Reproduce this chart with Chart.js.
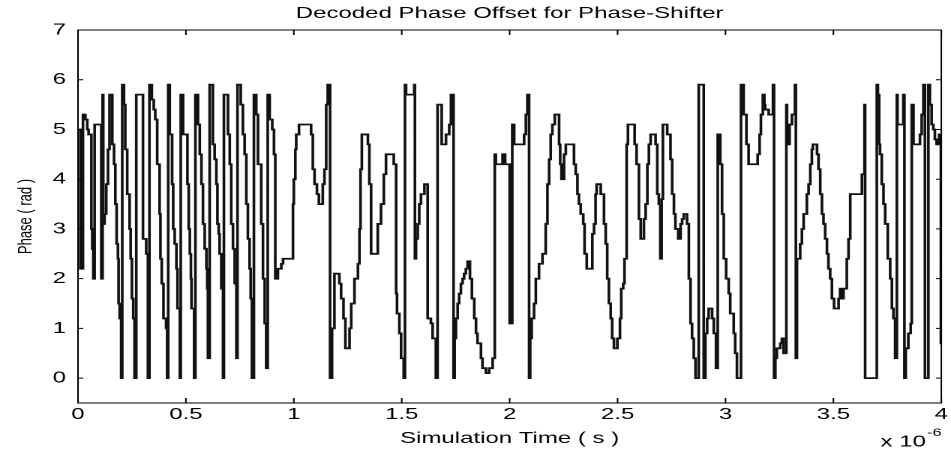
<!DOCTYPE html>
<html>
<head>
<meta charset="utf-8">
<title>Decoded Phase Offset for Phase-Shifter</title>
<script src="https://cdn.jsdelivr.net/npm/chart.js@4.4.1/dist/chart.umd.min.js"></script>
<style>
  html, body { margin: 0; padding: 0; background: #fff; overflow: hidden; }
  /* plot is laid out narrow, then stretched sideways like the printed figure */
  #wrap { width: 634px; height: 455px; transform: scaleX(1.5); transform-origin: 0 0; }
</style>
</head>
<body>
<div id="wrap"><canvas id="phaseChart" width="634" height="455"></canvas></div>
<script>
// Decoded phase (rad) against simulation time (microseconds), held between samples
const timeUs = [
  0.000, 0.011, 0.023, 0.034, 0.043, 0.049, 0.062, 0.066, 0.071, 0.077,
  0.108, 0.114, 0.117, 0.123, 0.131, 0.139, 0.146, 0.159, 0.167, 0.173,
  0.179, 0.185, 0.188, 0.193, 0.200, 0.205, 0.213, 0.219, 0.228, 0.239,
  0.244, 0.250, 0.256, 0.262, 0.270, 0.301, 0.316, 0.324, 0.331, 0.342,
  0.351, 0.358, 0.367, 0.378, 0.382, 0.388, 0.396, 0.408, 0.413, 0.418,
  0.425, 0.436, 0.441, 0.448, 0.456, 0.461, 0.472, 0.476, 0.487, 0.507,
  0.513, 0.518, 0.523, 0.526, 0.538, 0.544, 0.556, 0.564, 0.572, 0.579,
  0.587, 0.595, 0.599, 0.602, 0.610, 0.625, 0.633, 0.641, 0.646, 0.652,
  0.656, 0.664, 0.672, 0.676, 0.695, 0.703, 0.710, 0.718, 0.726, 0.734,
  0.739, 0.754, 0.764, 0.772, 0.780, 0.787, 0.795, 0.800, 0.806, 0.815,
  0.826, 0.834, 0.849, 0.857, 0.865, 0.872, 0.879, 0.888, 0.900, 0.908,
  0.914, 0.926, 0.942, 0.950, 0.996, 1.000, 1.007, 1.011, 1.024, 1.080,
  1.088, 1.096, 1.107, 1.116, 1.134, 1.142, 1.150, 1.157, 1.168, 1.177,
  1.188, 1.211, 1.219, 1.230, 1.239, 1.258, 1.266, 1.281, 1.297, 1.304,
  1.309, 1.315, 1.343, 1.350, 1.358, 1.389, 1.404, 1.417, 1.427, 1.463,
  1.474, 1.478, 1.489, 1.497, 1.509, 1.515, 1.520, 1.558, 1.561, 1.566,
  1.574, 1.581, 1.589, 1.605, 1.620, 1.635, 1.643, 1.658, 1.666, 1.685,
  1.705, 1.720, 1.728, 1.740, 1.745, 1.751, 1.759, 1.766, 1.774, 1.782,
  1.789, 1.797, 1.805, 1.816, 1.825, 1.836, 1.844, 1.851, 1.867, 1.874,
  1.890, 1.905, 1.921, 1.931, 1.936, 1.967, 1.979, 2.000, 2.012, 2.021,
  2.067, 2.075, 2.082, 2.090, 2.095, 2.102, 2.113, 2.121, 2.136, 2.152,
  2.167, 2.175, 2.183, 2.190, 2.198, 2.209, 2.229, 2.234, 2.240, 2.252,
  2.260, 2.298, 2.306, 2.314, 2.321, 2.329, 2.341, 2.347, 2.357, 2.383,
  2.391, 2.398, 2.403, 2.422, 2.437, 2.445, 2.452, 2.460, 2.468, 2.475,
  2.483, 2.499, 2.511, 2.517, 2.526, 2.532, 2.542, 2.548, 2.579, 2.588,
  2.599, 2.607, 2.622, 2.630, 2.638, 2.645, 2.653, 2.676, 2.684, 2.691,
  2.698, 2.704, 2.710, 2.730, 2.745, 2.753, 2.761, 2.768, 2.781, 2.792,
  2.799, 2.807, 2.822, 2.830, 2.838, 2.845, 2.853, 2.861, 2.876, 2.899,
  2.907, 2.915, 2.922, 2.938, 2.946, 2.956, 2.964, 2.976, 2.984, 2.992,
  3.003, 3.015, 3.022, 3.038, 3.045, 3.053, 3.072, 3.084, 3.097, 3.107,
  3.149, 3.158, 3.164, 3.173, 3.180, 3.184, 3.200, 3.220, 3.225, 3.231,
  3.238, 3.254, 3.261, 3.269, 3.282, 3.285, 3.297, 3.308, 3.322, 3.326,
  3.331, 3.346, 3.354, 3.362, 3.377, 3.385, 3.393, 3.400, 3.405, 3.424,
  3.431, 3.439, 3.447, 3.454, 3.462, 3.470, 3.477, 3.485, 3.493, 3.503,
  3.524, 3.531, 3.539, 3.547, 3.562, 3.570, 3.578, 3.632, 3.644, 3.647,
  3.701, 3.706, 3.712, 3.716, 3.724, 3.732, 3.740, 3.752, 3.763, 3.771,
  3.778, 3.786, 3.794, 3.797, 3.824, 3.829, 3.835, 3.847, 3.858, 3.863,
  3.871, 3.901, 3.909, 3.917, 3.924, 3.940, 3.947, 3.955, 3.963, 3.970,
  3.978, 3.990, 3.998, 4.000
];
const phaseRad = [
  5.0, 2.2, 5.3, 5.2, 5.0, 4.9, 3.0, 2.6, 2.0, 5.1,
  2.0, 5.7, 3.1, 3.3, 3.9, 4.6, 5.7, 4.7, 4.3, 3.5,
  2.7, 2.4, 1.5, 1.2, 0.0, 5.9, 5.5, 4.6, 3.7, 3.0,
  2.4, 1.6, 1.2, 0.0, 5.7, 2.8, 2.5, 0.0, 5.9, 5.6,
  5.4, 5.2, 4.3, 3.3, 2.4, 1.9, 1.2, 1.0, 0.0, 5.9,
  4.9, 3.9, 3.0, 2.7, 2.2, 1.4, 0.0, 5.7, 4.9, 3.9,
  3.0, 2.5, 2.0, 1.4, 0.0, 5.7, 5.1, 4.5, 3.9, 3.1,
  2.6, 2.2, 1.8, 0.4, 5.9, 4.7, 4.4, 3.9, 3.1, 2.9,
  2.5, 1.8, 0.0, 5.7, 4.9, 4.3, 3.1, 2.6, 1.9, 0.4,
  5.9, 5.5, 4.9, 4.5, 3.5, 2.8, 2.2, 1.6, 0.0, 5.7,
  5.3, 4.3, 3.1, 2.0, 1.1, 0.2, 5.7, 5.2, 5.0, 4.5,
  2.0, 2.2, 2.3, 2.4, 3.5, 4.0, 4.6, 4.9, 5.1, 4.9,
  4.2, 3.9, 3.7, 3.5, 3.9, 4.2, 5.5, 5.9, 0.0, 1.0,
  2.1, 1.9, 1.6, 1.2, 0.6, 1.0, 1.5, 2.0, 2.3, 3.0,
  4.2, 4.9, 4.7, 3.9, 2.5, 3.1, 3.5, 4.1, 4.5, 4.3,
  1.7, 1.3, 0.9, 0.4, 0.0, 5.9, 5.7, 5.9, 2.4, 2.8,
  3.1, 3.5, 3.7, 3.9, 1.2, 1.1, 0.8, 0.0, 5.5, 4.7,
  4.9, 5.1, 5.7, 0.0, 0.8, 1.2, 1.5, 1.7, 1.9, 2.0,
  2.1, 2.2, 2.35, 2.0, 1.6, 1.2, 0.9, 0.7, 0.4, 0.2,
  0.1, 0.2, 0.4, 4.5, 4.3, 4.5, 4.3, 1.1, 5.1, 4.7,
  4.9, 5.3, 5.7, 0.0, 0.8, 1.2, 1.5, 2.0, 2.3, 2.5,
  3.1, 3.9, 4.4, 4.9, 5.1, 5.3, 4.7, 4.3, 4.0, 4.5,
  4.7, 4.3, 4.1, 3.7, 3.5, 3.3, 3.1, 2.5, 2.2, 2.9,
  3.1, 3.7, 3.9, 3.7, 3.1, 2.7, 2.0, 1.5, 1.2, 0.8,
  0.6, 0.8, 1.2, 1.8, 1.9, 2.4, 4.7, 5.1, 4.7, 4.3,
  3.2, 2.8, 3.2, 3.5, 4.3, 4.7, 4.9, 4.7, 3.7, 3.5,
  2.4, 3.6, 5.1, 4.9, 4.4, 3.7, 3.3, 3.0, 2.8, 3.1,
  3.2, 3.3, 3.1, 2.0, 1.1, 0.8, 0.4, 0.0, 5.9, 0.0,
  0.9, 1.2, 1.4, 1.2, 0.9, 0.2, 4.9, 4.3, 3.3, 2.4,
  2.0, 1.7, 1.3, 0.9, 0.5, 0.0, 5.9, 5.3, 4.7, 4.3,
  4.5, 4.9, 5.3, 5.7, 5.5, 5.4, 5.3, 5.9, 0.0, 0.4,
  0.6, 0.7, 0.8, 0.5, 5.5, 4.7, 5.1, 5.3, 5.9, 0.4,
  2.4, 2.7, 3.0, 3.3, 3.7, 3.9, 4.3, 4.6, 4.7, 4.5,
  4.2, 3.7, 3.3, 3.1, 2.8, 2.5, 2.2, 2.0, 1.6, 1.4,
  1.6, 1.8, 1.6, 1.8, 2.4, 2.8, 3.7, 4.1, 5.5, 0.0,
  5.9, 5.7, 4.7, 4.5, 3.9, 3.5, 3.1, 2.4, 2.0, 1.4,
  1.2, 0.4, 5.7, 5.1, 5.7, 0.0, 0.6, 0.9, 1.1, 5.5,
  4.7, 4.9, 5.3, 5.9, 0.0, 5.9, 5.5, 5.1, 5.0, 4.8,
  4.7, 4.9, 0.7, 0.7
];
const xTicks = [0, 0.5, 1, 1.5, 2, 2.5, 3, 3.5, 4];
const yTicks = [0, 1, 2, 3, 4, 5, 6, 7];

const family = '"Liberation Sans", Arial, Helvetica, sans-serif';

// box round the axes, inward tick marks and the x 10^-6 exponent
const axesBox = {
  id: 'axesBox',
  afterDatasetsDraw(chart) {
    const { ctx, chartArea: a, scales: { x, y } } = chart;
    ctx.save();
    ctx.strokeStyle = '#000';
    ctx.lineWidth = 1;
    ctx.strokeRect(a.left, a.top, a.right - a.left, a.bottom - a.top);
    ctx.beginPath();
    xTicks.forEach(v => {
      const px = x.getPixelForValue(v);
      ctx.moveTo(px, a.bottom); ctx.lineTo(px, a.bottom - 5);
      ctx.moveTo(px, a.top); ctx.lineTo(px, a.top + 5);
    });
    yTicks.forEach(v => {
      const py = y.getPixelForValue(v);
      ctx.moveTo(a.left, py); ctx.lineTo(a.left + 3.5, py);
      ctx.moveTo(a.right, py); ctx.lineTo(a.right - 3.5, py);
    });
    ctx.stroke();
    ctx.fillStyle = '#000';
    ctx.textAlign = 'left';
    ctx.textBaseline = 'middle';
    ctx.font = '16px ' + family;
    ctx.fillText('x 10', 587, 442);
    ctx.font = '11px ' + family;
    ctx.fillText('-6', 618, 433);
    ctx.restore();
  }
};

new Chart(document.getElementById('phaseChart'), {
  type: 'line',
  data: {
    datasets: [{
      data: timeUs.map((t, i) => ({ x: t, y: phaseRad[i] })),
      borderColor: '#111',
      borderWidth: 1.8,
      borderJoinStyle: 'miter',
      pointRadius: 0,
      stepped: true,
      fill: false
    }]
  },
  options: {
    responsive: false,
    animation: false,
    devicePixelRatio: 2,
    layout: { padding: { left: 0, right: 5.33, top: 0, bottom: 0 } },
    plugins: {
      legend: { display: false },
      tooltip: { enabled: false },
      title: {
        display: true,
        fullSize: false,
        text: 'Decoded Phase Offset for Phase-Shifter',
        color: '#000',
        font: { size: 16, weight: 'normal', family },
        padding: { top: 4, bottom: 6.8 }
      }
    },
    scales: {
      x: {
        type: 'linear',
        min: 0,
        max: 4,
        afterBuildTicks: s => { s.ticks = xTicks.map(v => ({ value: v })); },
        afterFit: s => { s.height = 52; },
        grid: { display: false, drawTicks: false },
        border: { display: false },
        ticks: {
          color: '#000',
          font: { size: 16, family },
          padding: 2,
          maxRotation: 0,
          autoSkip: false,
          callback: v => String(v)
        },
        title: {
          display: true,
          text: 'Simulation Time ( s )',
          color: '#000',
          font: { size: 16, family },
          padding: { top: 0, bottom: 7 }
        }
      },
      y: {
        min: -0.5,
        max: 7,
        afterBuildTicks: s => { s.ticks = yTicks.map(v => ({ value: v })); },
        afterFit: s => { s.width = 52; },
        grid: { display: false, drawTicks: false },
        border: { display: false },
        ticks: { color: '#000', font: { size: 16, family }, padding: 8 },
        title: {
          display: true,
          text: 'Phase ( rad )',
          color: '#000',
          font: { size: 13, family },
          padding: { top: 9.5 }
        }
      }
    }
  },
  plugins: [axesBox]
});
</script>
</body>
</html>
